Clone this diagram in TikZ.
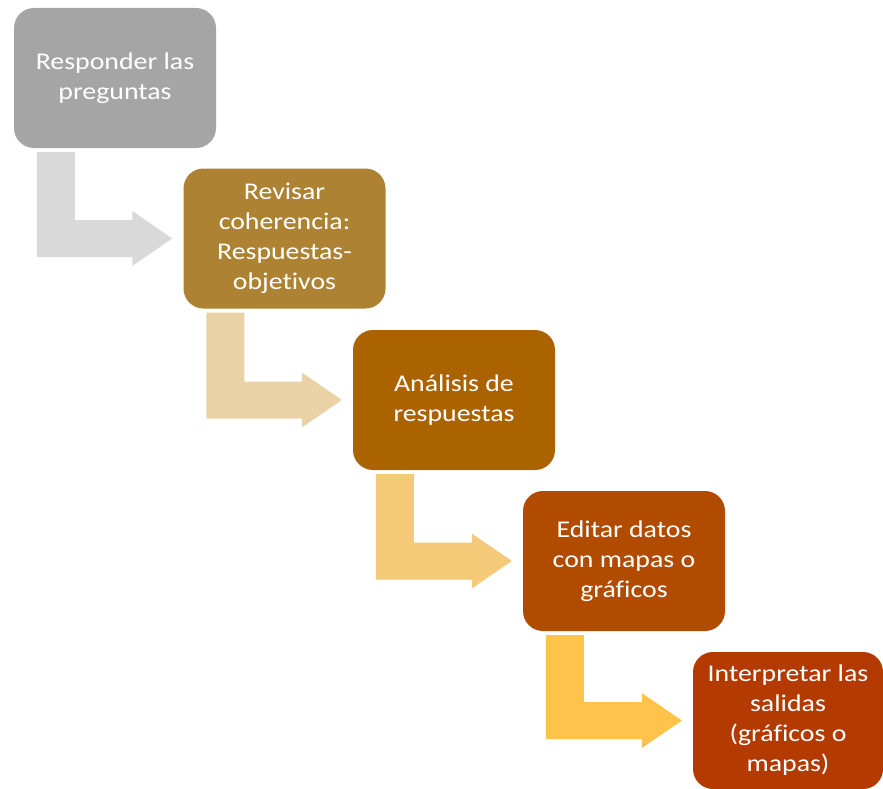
\documentclass[tikz,border=0pt]{standalone}
\usepackage{fontspec}
\usepackage{tikz}
\usetikzlibrary{calc}
\newfontfamily\boxfont{Carlito}[FakeStretch=1.16, Ligatures={NoCommon, NoRare}]
\definecolor{sgray}{HTML}{A5A5A5}
\definecolor{sgold}{HTML}{AD8232}
\definecolor{sochre}{HTML}{AB6300}
\definecolor{sorange}{HTML}{B14B00}
\definecolor{srust}{HTML}{B33A00}
\definecolor{agray}{HTML}{D9D9D9}
\definecolor{asand}{HTML}{E9D2A5}
\definecolor{awheat}{HTML}{F4CA78}
\definecolor{aamber}{HTML}{FFC24B}
\tikzset{stepbox/.style = {rectangle, rounded corners = 20pt,
                           minimum width = 202pt, minimum height = 140pt,
                           inner sep = 0, align = center, text = white,
                           font = \boxfont\fontsize{24}{30}\selectfont}}
\newcommand{\bendarrow}[3]{%
    \fill [#1] ($(#2.south west) + (23, 4)$) coordinate (p) -- ++(38, 0)
        |- ($(#3.west) + (-51, -18.5)$) -- ++(0, -9) -- ($(#3.west) + (-11, 0)$)
        -- ++(-40, 27.5) -- ++(0, -9) -| (p) -- cycle;}

\begin{document}
\begin{tikzpicture}[x=1pt, y=-1pt]
    \useasboundingbox (0, 0) rectangle (883, 789);

    \node [stepbox, fill=sgray] (responder) at (115, 78) {Responder las\\preguntas};
    \node [stepbox, fill=sgold] (revisar) at (284.5, 238.5) {Revisar\\coherencia:\\Respuestas-\\objetivos};
    \node [stepbox, fill=sochre] (analisis) at (454, 400) {Análisis de\\respuestas};
    \node [stepbox, fill=sorange] (editar) at (624, 561) {Editar datos\\con mapas o\\gráficos};
    \node [stepbox, fill=srust, minimum width=190pt, minimum height=137pt] (interpretar) at (788, 720.5) {Interpretar las\\salidas\\(gráficos o\\mapas)};

    \bendarrow{agray}{responder}{revisar}
    \bendarrow{asand}{revisar}{analisis}
    \bendarrow{awheat}{analisis}{editar}
    \bendarrow{aamber}{editar}{interpretar}
\end{tikzpicture}
\end{document}
